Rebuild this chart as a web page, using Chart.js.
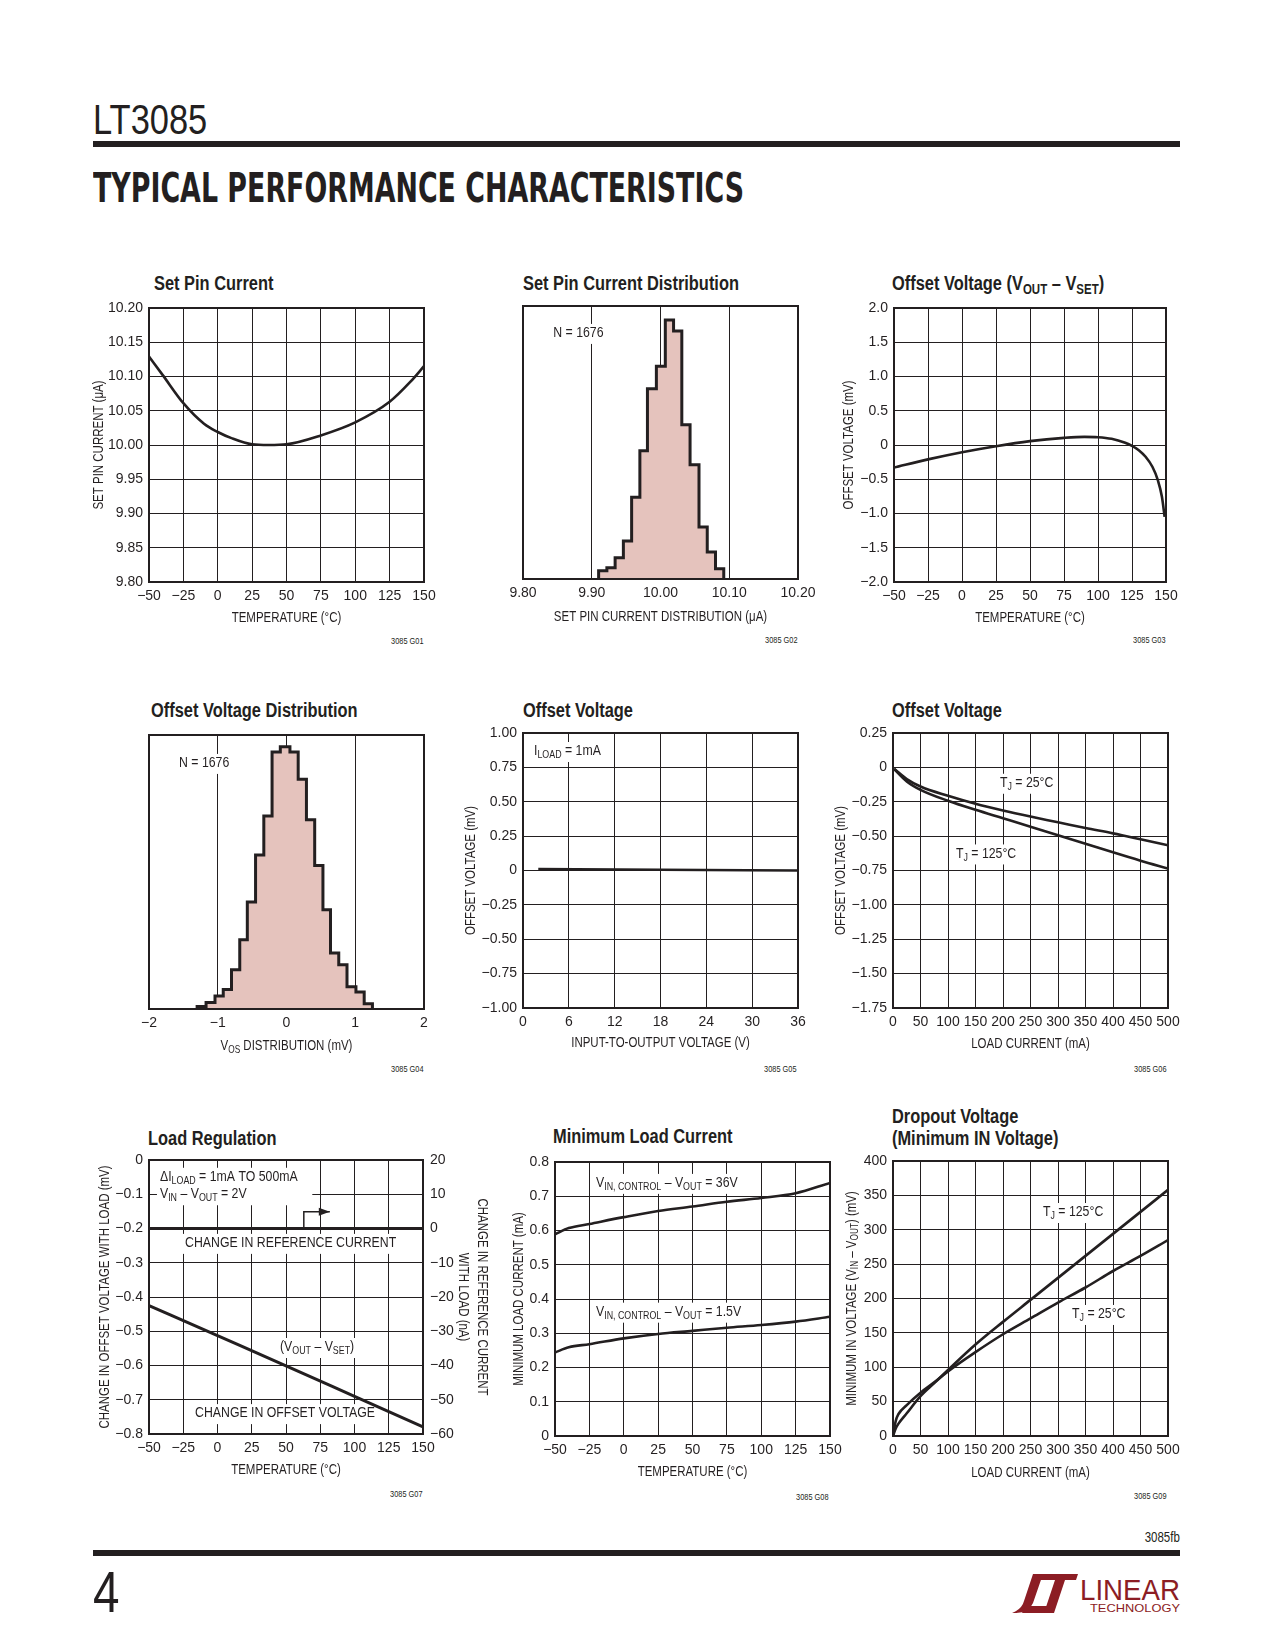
<!DOCTYPE html>
<html>
<head>
<meta charset="utf-8">
<script src="https://cdn.jsdelivr.net/npm/chart.js@4.4.0/dist/chart.umd.min.js"></script>
<style>
body { margin: 0; width: 1275px; height: 1650px; position: relative; overflow: hidden; background: #fff;
  font-family: "Liberation Sans", Arial, sans-serif; color: #231f20; }
.abs { position: absolute; white-space: nowrap; }
.narrow { transform: scaleX(0.82); transform-origin: 0 0; }
.narrowR { transform: scaleX(0.82); transform-origin: 100% 0; }
.ctitle { font-weight: bold; font-size: 20px; line-height: 22px; }
.ctitle sub { font-size: 14px; vertical-align: -4px; line-height: 0; }
.gnum { font-size: 9px; line-height: 10px; }
canvas { position: absolute; }
</style>
</head>
<body>
<!-- page header -->
<div class="abs narrow" style="left:93px;top:99px;font-size:42px;line-height:42px;">LT3085</div>
<div class="abs" style="left:93px;top:141px;width:1087px;height:6px;background:#231f20;"></div>
<div class="abs" id="section" style="left:93px;top:168px;font-size:40px;line-height:40px;font-weight:bold;font-family:'DejaVu Sans Condensed',sans-serif;transform-origin:0 0;">TYPICAL PERFORMANCE CHARACTERISTICS</div>

<!-- chart titles -->
<div class="abs ctitle narrow" style="left:154px;top:272px;">Set Pin Current</div>
<div class="abs ctitle narrow" style="left:523px;top:272px;">Set Pin Current Distribution</div>
<div class="abs ctitle narrow" style="left:892px;top:272px;">Offset Voltage (V<sub>OUT</sub> – V<sub>SET</sub>)</div>
<div class="abs ctitle narrow" style="left:151px;top:699px;">Offset Voltage Distribution</div>
<div class="abs ctitle narrow" style="left:523px;top:699px;">Offset Voltage</div>
<div class="abs ctitle narrow" style="left:892px;top:699px;">Offset Voltage</div>
<div class="abs ctitle narrow" style="left:148px;top:1127px;">Load Regulation</div>
<div class="abs ctitle narrow" style="left:553px;top:1125px;">Minimum Load Current</div>
<div class="abs ctitle narrow" style="left:892px;top:1105px;">Dropout Voltage<br>(Minimum IN Voltage)</div>

<!-- figure numbers -->
<div class="abs gnum narrowR" style="right:851px;top:636px;">3085 G01</div>
<div class="abs gnum narrowR" style="right:477px;top:635px;">3085 G02</div>
<div class="abs gnum narrowR" style="right:109px;top:635px;">3085 G03</div>
<div class="abs gnum narrowR" style="right:851px;top:1064px;">3085 G04</div>
<div class="abs gnum narrowR" style="right:478px;top:1064px;">3085 G05</div>
<div class="abs gnum narrowR" style="right:108px;top:1064px;">3085 G06</div>
<div class="abs gnum narrowR" style="right:852px;top:1489px;">3085 G07</div>
<div class="abs gnum narrowR" style="right:446px;top:1492px;">3085 G08</div>
<div class="abs gnum narrowR" style="right:108px;top:1491px;">3085 G09</div>

<!-- footer -->
<div class="abs narrowR" style="right:95px;top:1529px;font-size:14px;line-height:16px;">3085fb</div>
<div class="abs" style="left:93px;top:1550px;width:1087px;height:6px;background:#231f20;"></div>
<div class="abs narrow" style="left:93px;top:1563px;font-size:58px;line-height:58px;">4</div>
<svg class="abs" style="left:1012px;top:1573px;" width="170" height="42" viewBox="0 0 170 42">
  <g fill="#8c1d24">
    <path d="M21 1 H31 L21 30 Q17 40 3 40 H0 Q10 36 12 28 Z"/>
    <path d="M13 33 H40 L38 40 H10 Z"/>
    <path d="M26 1 H66 L64 7 H24 Z"/>
    <path d="M43 7 H53 L42 40 H32 Z"/>
    <text x="68" y="27" font-size="30" textLength="100" lengthAdjust="spacingAndGlyphs" font-family="Liberation Sans, sans-serif">LINEAR</text>
    <text x="78" y="39" font-size="11" textLength="90" lengthAdjust="spacingAndGlyphs" font-family="Liberation Sans, sans-serif">TECHNOLOGY</text>
  </g>
</svg>

<script>
// ---- data ----
// G01 set pin current vs temperature
const g01Temp = [-50, -40, -25, -10, 0, 10, 25, 37, 50, 75, 100, 125, 140, 150];
const g01Current = [10.129, 10.102, 10.061, 10.031, 10.019, 10.010, 10.001, 10.000, 10.001, 10.014, 10.033, 10.063, 10.092, 10.115];

// G02 set pin current histogram (bin edges in uA, counts)
const g02Edges = [9.910, 9.922, 9.934, 9.946, 9.958, 9.970, 9.981, 9.994, 10.007, 10.019, 10.031, 10.043, 10.056, 10.068, 10.080, 10.092];
const g02Counts = [9, 12, 23, 41, 88, 138, 205, 229, 279, 267, 166, 123, 56, 29, 11];

// G03 offset voltage vs temperature
const g03Temp = [-50, -25, 0, 25, 50, 75, 90, 100, 110, 120, 125, 130, 135, 140, 144, 147, 149];
const g03Vos = [-0.33, -0.21, -0.105, -0.017, 0.056, 0.104, 0.119, 0.114, 0.09, 0.032, -0.012, -0.075, -0.172, -0.318, -0.513, -0.756, -1.05];

// G04 offset voltage histogram (bin edges in mV, counts)
const g04Edges = [-1.30, -1.17, -1.04, -0.92, -0.80, -0.68, -0.57, -0.45, -0.33, -0.21, -0.09, 0.05, 0.17, 0.29, 0.41, 0.53, 0.64, 0.76, 0.88, 1.01, 1.13, 1.25];
const g04Counts = [2, 5, 10, 15, 30, 53, 82, 118, 148, 197, 201, 197, 176, 145, 110, 76, 43, 34, 17, 13, 4];

// G05 offset voltage vs input-to-output voltage
const g05Vio = [2, 18, 36];
const g05Vos = [0.01, 0.005, 0];

// G06 offset voltage vs load current
const g06Load = [2, 25, 50, 100, 150, 200, 250, 300, 350, 400, 450, 500];
const g06Vos25 = [-0.01, -0.085, -0.139, -0.207, -0.265, -0.314, -0.358, -0.399, -0.441, -0.480, -0.523, -0.567];
const g06Vos125 = [-0.012, -0.102, -0.163, -0.243, -0.309, -0.370, -0.431, -0.494, -0.555, -0.618, -0.679, -0.736];

// G07 load regulation
const g07Temp = [-50, 0, 50, 100, 150];
const g07Vos = [-0.425, -0.513, -0.601, -0.690, -0.779];
const g07RefTemp = [-50, 150];
const g07RefCurrent = [0, 0];

// G08 minimum load current
const g08Temp = [-50, -40, -25, 0, 25, 50, 75, 100, 125, 150];
const g08I36 = [0.589, 0.607, 0.619, 0.639, 0.657, 0.670, 0.684, 0.695, 0.709, 0.739];
const g08I15 = [0.244, 0.259, 0.268, 0.285, 0.298, 0.307, 0.316, 0.324, 0.334, 0.348];

// G09 dropout voltage
const g09Load = [0, 5, 10, 25, 50, 75, 100, 150, 200, 250, 300, 350, 400, 450, 500];
const g09V125 = [0, 11, 18, 33, 58, 77, 96, 133, 166, 198, 230, 262, 294, 326, 358];
const g09V25 = [0, 22, 32, 45, 63, 78, 94, 122, 148, 171, 194, 216, 240, 262, 285];

// ---- shared styling ----
const INK = '#231f20';
const PINK = '#e5c3bd';
const FONT = '"Liberation Sans", Arial, sans-serif';
const SQUEEZE = 0.82; // narrow face look
Chart.defaults.font.family = FONT;
Chart.defaults.color = INK;

// margins round each plot area inside its canvas
const L = 85, T = 20, R = 40, B = 60;

// fit the section heading to the printed width
const sec = document.getElementById('section');
sec.style.transform = 'scaleX(' + (651 / sec.getBoundingClientRect().width) + ')';

function fmt(dec, plainZero) {
    return function(v) {
        if (Math.abs(v) < 1e-9) return plainZero ? '0' : (0).toFixed(dec);
        return (v < 0 ? '\u2212' : '') + Math.abs(v).toFixed(dec);
    };
}

// text with subscripts, squeezed sideways: parts = [[text, isSub], ...]
function richWidth(ctx, parts, size) {
    let w = 0;
    parts.forEach(p => {
        ctx.font = (p[1] ? size * 0.72 : size) + 'px ' + FONT;
        w += ctx.measureText(p[0]).width;
    });
    return w * SQUEEZE;
}
function drawRich(ctx, parts, x, y, size) {
    ctx.save();
    ctx.translate(x, y);
    ctx.scale(SQUEEZE, 1);
    let cx = 0;
    parts.forEach(p => {
        const s = p[1] ? size * 0.72 : size;
        ctx.font = s + 'px ' + FONT;
        ctx.fillText(p[0], cx, p[1] ? size * 0.28 : 0);
        cx += ctx.measureText(p[0]).width;
    });
    ctx.restore();
}

// plot frame
const framePlugin = {
    id: 'frame',
    afterDatasetsDraw(chart) {
        const a = chart.chartArea, ctx = chart.ctx;
        ctx.save();
        ctx.strokeStyle = INK;
        ctx.lineWidth = 2;
        ctx.strokeRect(a.left, a.top, a.right - a.left, a.bottom - a.top);
        ctx.restore();
    }
};

// in-plot labels, arrows and axis titles
const notesPlugin = {
    id: 'notes',
    beforeDatasetsDraw(chart, args, opts) {
        const ctx = chart.ctx, xs = chart.scales.x;
        ctx.save();
        ctx.textBaseline = 'middle';
        (opts.items || []).forEach(n => {
            const ys = chart.scales[n.axis || 'y'];
            const px = xs.getPixelForValue(n.x), py = ys.getPixelForValue(n.y);
            let w = richWidth(ctx, n.parts, 15);
            if (n.bgTo !== undefined) w = Math.max(w, xs.getPixelForValue(n.bgTo) - px);
            ctx.fillStyle = '#fff';
            ctx.fillRect(px - 3, py - 9, w + 6, 20);
            ctx.fillStyle = INK;
            drawRich(ctx, n.parts, px, py, 15);
        });
        (opts.arrows || []).forEach(ar => {
            const ys = chart.scales[ar.axis || 'y'];
            const pts = ar.pts.map(p => [xs.getPixelForValue(p[0]), ys.getPixelForValue(p[1])]);
            ctx.strokeStyle = INK;
            ctx.lineWidth = 1.5;
            ctx.beginPath();
            pts.forEach((p, i) => i ? ctx.lineTo(p[0], p[1]) : ctx.moveTo(p[0], p[1]));
            ctx.stroke();
            const e = pts[pts.length - 1];
            ctx.fillStyle = INK;
            ctx.beginPath();
            ctx.moveTo(e[0], e[1]);
            ctx.lineTo(e[0] - 11, e[1] - 4);
            ctx.lineTo(e[0] - 11, e[1] + 4);
            ctx.closePath();
            ctx.fill();
        });
        ctx.restore();
    },
    afterDraw(chart, args, opts) {
        const ctx = chart.ctx, a = chart.chartArea;
        ctx.save();
        ctx.textBaseline = 'middle';
        ctx.fillStyle = INK;
        (opts.titles || []).forEach(t => {
            const w = richWidth(ctx, t.parts, 14);
            const midX = (a.left + a.right) / 2, midY = (a.top + a.bottom) / 2;
            ctx.save();
            if (t.side === 'bottom') {
                ctx.translate(midX, a.bottom + t.off);
            } else if (t.side === 'left') {
                ctx.translate(a.left - t.off, midY);
                ctx.rotate(-Math.PI / 2);
            } else {
                ctx.translate(a.right + t.off, midY);
                ctx.rotate(Math.PI / 2);
            }
            drawRich(ctx, t.parts, -w / 2, 0, 14);
            ctx.restore();
        });
        ctx.restore();
    }
};

function place(P, rightW) {
    const c = document.createElement('canvas');
    c.width = (P.r - P.l) + L + rightW;
    c.height = (P.b - P.t) + T + B;
    c.style.left = (P.l - L) + 'px';
    c.style.top = (P.t - T) + 'px';
    document.body.appendChild(c);
    return c;
}

const TICK_FONT = { size: 14 };

function xAxis(min, max, step, f) {
    return {
        type: 'linear', min: min, max: max,
        afterFit: s => { s.height = B; },
        grid: { color: INK, lineWidth: 1, drawTicks: false },
        border: { display: false },
        ticks: { stepSize: step, callback: f, padding: 6, font: TICK_FONT, maxRotation: 0, autoSkip: false }
    };
}

function yAxis(min, max, step, f) {
    return {
        type: 'linear', min: min, max: max,
        afterFit: s => { s.width = L; },
        grid: { color: INK, lineWidth: 1, drawTicks: false },
        border: { display: false },
        ticks: { stepSize: step, callback: f, padding: 6, font: TICK_FONT, autoSkip: false }
    };
}

function yBlank(min, max) {
    return {
        type: 'linear', min: min, max: max,
        afterFit: s => { s.width = L; },
        grid: { display: false }, border: { display: false }, ticks: { display: false }
    };
}

function curve(xs, ys, extra) {
    return Object.assign({
        data: xs.map((x, i) => ({ x: x, y: ys[i] })),
        borderColor: INK, borderWidth: 2.6, pointRadius: 0, fill: false,
        cubicInterpolationMode: 'monotone'
    }, extra || {});
}

// histogram outline: every bin gets its own flat top, joined by vertical steps
function histo(edges, counts) {
    const pts = [{ x: edges[0], y: 0 }];
    counts.forEach((c, i) => {
        pts.push({ x: edges[i], y: c });
        pts.push({ x: edges[i + 1], y: c });
    });
    pts.push({ x: edges[edges.length - 1], y: 0 });
    return { data: pts, borderColor: INK, borderWidth: 3, backgroundColor: PINK, fill: 'origin', pointRadius: 0, tension: 0 };
}

function build(P, datasets, scales, notes, rightW) {
    const rw = rightW || R;
    return new Chart(place(P, rw), {
        type: 'line',
        data: { datasets: datasets },
        options: {
            responsive: false, animation: false, events: [],
            layout: { padding: { top: T, right: rightW ? 0 : R, left: 0, bottom: 0 } },
            scales: scales,
            plugins: { legend: { display: false }, tooltip: { enabled: false }, notes: notes || {} }
        },
        plugins: [framePlugin, notesPlugin]
    });
}

const TEMP_TITLE = [['TEMPERATURE (°C)']];

// G01
const P1 = { l: 149, t: 308, r: 424, b: 582 };
build(P1, [curve(g01Temp, g01Current)], {
    x: xAxis(-50, 150, 25, fmt(0, true)),
    y: yAxis(9.8, 10.2, 0.05, fmt(2))
}, { titles: [
    { side: 'bottom', off: 36.3, parts: TEMP_TITLE },
    { side: 'left', off: 49.7, parts: [['SET PIN CURRENT (μA)']] }
] });

// G02
const P2 = { l: 523, t: 306, r: 798, b: 579 };
build(P2, [histo(g02Edges, g02Counts)], {
    x: xAxis(9.8, 10.2, 0.1, fmt(2)),
    y: yBlank(0, 294)
}, {
    items: [{ x: 9.844, y: 265, parts: [['N = 1676']] }],
    titles: [{ side: 'bottom', off: 37.7, parts: [['SET PIN CURRENT DISTRIBUTION (μA)']] }]
});

// G03
const P3 = { l: 894, t: 308, r: 1166, b: 582 };
build(P3, [curve(g03Temp, g03Vos)], {
    x: xAxis(-50, 150, 25, fmt(0, true)),
    y: yAxis(-2, 2, 0.5, fmt(1, true))
}, { titles: [
    { side: 'bottom', off: 36.3, parts: TEMP_TITLE },
    { side: 'left', off: 44.7, parts: [['OFFSET VOLTAGE (mV)']] }
] });

// G04
const P4 = { l: 149, t: 735, r: 424, b: 1009 };
build(P4, [histo(g04Edges, g04Counts)], {
    x: xAxis(-2, 2, 1, fmt(0, true)),
    y: yBlank(0, 210)
}, {
    items: [{ x: -1.564, y: 188.6, parts: [['N = 1676']] }],
    titles: [{ side: 'bottom', off: 37, parts: [['V'], ['OS', true], [' DISTRIBUTION (mV)']] }]
});

// G05
const P5 = { l: 523, t: 733, r: 798, b: 1008 };
build(P5, [curve(g05Vio, g05Vos)], {
    x: xAxis(0, 36, 6, fmt(0, true)),
    y: yAxis(-1, 1, 0.25, fmt(2, true))
}, {
    items: [{ x: 1.44, y: 0.869, parts: [['I'], ['LOAD', true], [' = 1mA']] }],
    titles: [
        { side: 'bottom', off: 35.3, parts: [['INPUT-TO-OUTPUT VOLTAGE (V)']] },
        { side: 'left', off: 52.3, parts: [['OFFSET VOLTAGE (mV)']] }
    ]
});

// G06
const P6 = { l: 893, t: 733, r: 1168, b: 1008 };
build(P6, [curve(g06Load, g06Vos25), curve(g06Load, g06Vos125)], {
    x: xAxis(0, 500, 50, fmt(0, true)),
    y: yAxis(-1.75, 0.25, 0.25, fmt(2, true))
}, {
    items: [
        { x: 194.5, y: -0.112, parts: [['T'], ['J', true], [' = 25°C']] },
        { x: 114.5, y: -0.626, parts: [['T'], ['J', true], [' = 125°C']] }
    ],
    titles: [
        { side: 'bottom', off: 36.3, parts: [['LOAD CURRENT (mA)']] },
        { side: 'left', off: 52.3, parts: [['OFFSET VOLTAGE (mV)']] }
    ]
});

// G07 (two y axes)
const P7 = { l: 149, t: 1160, r: 423, b: 1434 };
const RW7 = 70;
const y2Axis = {
    type: 'linear', position: 'right', min: -60, max: 20,
    afterFit: s => { s.width = RW7; },
    grid: { display: false, drawTicks: false }, border: { display: false },
    ticks: { stepSize: 10, callback: fmt(0, true), padding: 7, font: TICK_FONT, autoSkip: false }
};
build(P7, [
    curve(g07Temp, g07Vos, { borderWidth: 3 }),
    curve(g07RefTemp, g07RefCurrent, { yAxisID: 'y2', borderWidth: 3.2 })
], {
    x: xAxis(-50, 150, 25, fmt(0, true)),
    y: yAxis(-0.8, 0, 0.1, fmt(1, true)),
    y2: y2Axis
}, {
    items: [
        { x: -42, y: -0.049, bgTo: 67, parts: [['ΔI'], ['LOAD', true], [' = 1mA TO 500mA']] },
        { x: -42, y: -0.100, bgTo: 67, parts: [['V'], ['IN', true], [' – V'], ['OUT', true], [' = 2V']] },
        { x: -23.7, y: -0.242, parts: [['CHANGE IN REFERENCE CURRENT']] },
        { x: 45.6, y: -0.546, parts: [['(V'], ['OUT', true], [' – V'], ['SET', true], [')']] },
        { x: -16.4, y: -0.739, parts: [['CHANGE IN OFFSET VOLTAGE']] }
    ],
    arrows: [{ axis: 'y2', pts: [[63, 0], [63, 4.9], [82, 4.9]] }],
    titles: [
        { side: 'bottom', off: 36, parts: TEMP_TITLE },
        { side: 'left', off: 44, parts: [['CHANGE IN OFFSET VOLTAGE WITH LOAD (mV)']] },
        { side: 'right', off: 58.7, parts: [['CHANGE IN REFERENCE CURRENT']] },
        { side: 'right', off: 39.7, parts: [['WITH LOAD (nA)']] }
    ]
}, RW7);

// G08
const P8 = { l: 555, t: 1162, r: 830, b: 1436 };
build(P8, [curve(g08Temp, g08I36), curve(g08Temp, g08I15)], {
    x: xAxis(-50, 150, 25, fmt(0, true)),
    y: yAxis(0, 0.8, 0.1, fmt(1, true))
}, {
    items: [
        { x: -20.2, y: 0.739, parts: [['V'], ['IN, CONTROL', true], [' – V'], ['OUT', true], [' = 36V']] },
        { x: -20.2, y: 0.363, parts: [['V'], ['IN, CONTROL', true], [' – V'], ['OUT', true], [' = 1.5V']] }
    ],
    titles: [
        { side: 'bottom', off: 36.3, parts: TEMP_TITLE },
        { side: 'left', off: 35.7, parts: [['MINIMUM LOAD CURRENT (mA)']] }
    ]
});

// G09
const P9 = { l: 893, t: 1161, r: 1168, b: 1436 };
build(P9, [curve(g09Load, g09V125), curve(g09Load, g09V25)], {
    x: xAxis(0, 500, 50, fmt(0, true)),
    y: yAxis(0, 400, 50, fmt(0, true))
}, {
    items: [
        { x: 272.7, y: 325.8, parts: [['T'], ['J', true], [' = 125°C']] },
        { x: 325.5, y: 177.5, parts: [['T'], ['J', true], [' = 25°C']] }
    ],
    titles: [
        { side: 'bottom', off: 36.7, parts: [['LOAD CURRENT (mA)']] },
        { side: 'left', off: 41.3, parts: [['MINIMUM IN VOLTAGE (V'], ['IN', true], [' – V'], ['OUT', true], [') (mV)']] }
    ]
});
</script>
</body>
</html>
